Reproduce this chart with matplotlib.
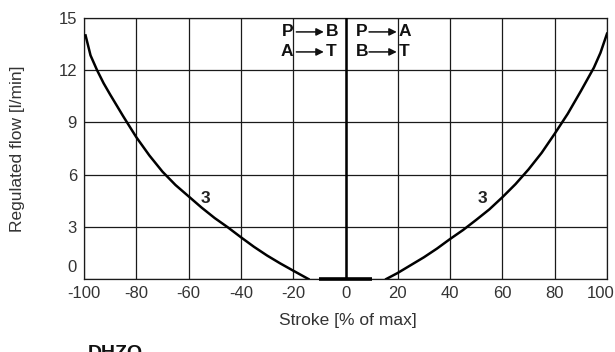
import matplotlib
matplotlib.use("Agg")
import matplotlib.pyplot as plt
import matplotlib.transforms as mtransforms

# ---- data ----
stroke_left = [-99.4, -97.5, -95, -92.5, -90, -85, -80, -75, -70, -65, -60, -55, -50, -45, -40,
               -35, -30, -25, -20, -14.2]
flow_left = [14.0, 12.85, 12.0, 11.25, 10.6, 9.35, 8.15, 7.1, 6.17, 5.4, 4.75, 4.1, 3.5, 2.97, 2.4,
             1.85, 1.35, 0.9, 0.48, 0.0]

stroke_right = [15.6, 20, 25, 30, 35, 40, 45, 50, 55, 60, 65, 70, 75, 80, 85, 90, 95, 97.5, 100]
flow_right = [0.0, 0.35, 0.8, 1.25, 1.75, 2.3, 2.82, 3.4, 4.0, 4.7, 5.45, 6.3, 7.25, 8.35, 9.5,
              10.8, 12.15, 13.0, 14.1]

deadband_stroke = [-10, 10]
deadband_flow = [0, 0]

x_ticks = [-100, -80, -60, -40, -20, 0, 20, 40, 60, 80, 100]
y_ticks = [0, 3, 6, 9, 12, 15]

curve_label = "3"
label_left_pos = (-53.5, 4.65)
label_right_pos = (52.3, 4.65)

flow_left_text = [("P", "B"), ("A", "T")]
flow_right_text = [("P", "A"), ("B", "T")]

# ---- figure ----
W, H = 615, 352
fig = plt.figure(figsize=(W / 100, H / 100), dpi=100)
L, R, T, B = 84, 607, 18, 279
ax = fig.add_axes([L / W, 1 - B / H, (R - L) / W, (B - T) / H])

txt = "#333333"
font = "Liberation Sans"

ax.set_xlim(-100, 100)
ax.set_ylim(0, 15)
ax.set_xticks(x_ticks)
ax.set_yticks(y_ticks)
ax.set_xticklabels([str(v) for v in x_ticks], fontsize=12, family=font, color=txt)
ax.set_yticklabels([str(v) for v in y_ticks], fontsize=12, family=font, color=txt)
ax.tick_params(length=0, pad=5)
ax.grid(True, color="#1a1a1a", lw=0.9)
for s in ax.spines.values():
    s.set_color("#1a1a1a")
    s.set_linewidth(0.9)
ax.axvline(0, color="black", lw=1.8, zorder=3)

# raise the "0" y tick label above the axis line
lab0 = ax.get_yticklabels()[0]
lab0.set_transform(lab0.get_transform() + mtransforms.ScaledTranslation(0, 0.13, fig.dpi_scale_trans))
# keep the last x label inside the picture
labx = ax.get_xticklabels()[-1]
labx.set_transform(labx.get_transform() + mtransforms.ScaledTranslation(-0.06, 0, fig.dpi_scale_trans))

# curves
ax.plot(stroke_left, flow_left, color="black", lw=1.8, zorder=4, solid_joinstyle="round")
ax.plot(stroke_right, flow_right, color="black", lw=1.8, zorder=4, solid_joinstyle="round")
ax.plot(deadband_stroke, deadband_flow, color="black", lw=2.6, zorder=4, clip_on=False,
        solid_capstyle="butt")

# curve labels
for pos in (label_left_pos, label_right_pos):
    ax.text(pos[0], pos[1], curve_label, fontsize=12.5, fontweight="bold", family=font,
            ha="center", va="center", color="#222")

# flow direction header
rows_y = [14.2, 13.05]
hdr = dict(fontsize=12.5, fontweight="bold", family=font, va="center", color="#111")
for (a, b), y in zip(flow_left_text, rows_y):
    ax.text(-20.0, y, a, ha="right", **hdr)
    ax.text(-7.5, y, b, ha="left", **hdr)
    ax.annotate("", xy=(-8.3, y), xytext=(-18.8, y),
                arrowprops=dict(arrowstyle="-|>", lw=1.1, color="#111", mutation_scale=11,
                                shrinkA=0, shrinkB=0))
for (a, b), y in zip(flow_right_text, rows_y):
    ax.text(3.8, y, a, ha="left", **hdr)
    ax.text(20.3, y, b, ha="left", **hdr)
    ax.annotate("", xy=(19.6, y), xytext=(9.0, y),
                arrowprops=dict(arrowstyle="-|>", lw=1.1, color="#111", mutation_scale=11,
                                shrinkA=0, shrinkB=0))

# axis titles
fig.text(18 / W, 1 - 148.5 / H, "Regulated flow [l/min]", rotation=90, ha="center", va="center",
         fontsize=12.5, family=font, color=txt)
fig.text(348 / W, 1 - 320 / H, "Stroke [% of max]", ha="center", va="center",
         fontsize=12.5, family=font, color=txt)
fig.text(88 / W, 1 - 345 / H, "DHZO", ha="left", va="top", fontsize=14, fontweight="bold",
         family=font, color="#111")

fig.savefig("out.png", dpi=100)
